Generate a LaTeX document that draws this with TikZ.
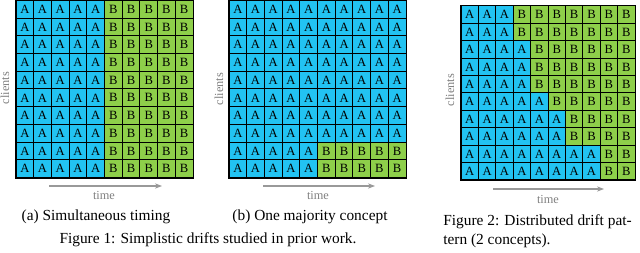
\documentclass[tikz,border=0pt]{standalone}
\usepackage{fontspec}
\setmainfont{Liberation Serif}
\usepackage{tikz}
\usetikzlibrary{arrows.meta,positioning}
\definecolor{conceptA}{HTML}{22C3F2}
\definecolor{conceptB}{HTML}{8ECF4A}
\tikzset{
  cell/.style={draw, line width=0.65pt, inner sep=0pt, font=\fontsize{8.2}{9}\selectfont},
  gridframe/.style={draw, line width=1pt},
  timearr/.style={-{Stealth[length=1.6mm, width=1.2mm]}, draw=gray!80, line width=0.9pt},
  axlbl/.style={font=\fontsize{8}{9}\selectfont, text=gray},
  captxt/.style={font=\fontsize{10}{12}\selectfont, align=left, inner sep=0pt}
}
% #1 name, #2 left, #3 top, #4 cell size, #5 number of A's in each row
\newcommand{\driftgrid}[5]{
  \foreach \n [count=\r] in {#5}{
    \foreach \c in {1,...,10}{
      \ifnum\c>\n \def\cc{B}\def\cfill{conceptB}\else\def\cc{A}\def\cfill{conceptA}\fi
      \node[cell, fill=\cfill, minimum size=#4*0.65pt]
        (#1-\r-\c) at ({#2+(\c-0.5)*#4},{#3+(\r-0.5)*#4}) {\cc};
    }
  }
  \draw[gridframe] (#1-1-1.north west) rectangle (#1-10-10.south east);
}

\begin{document}
\begin{tikzpicture}[x=0.65pt, y=-0.65pt]
  \useasboundingbox (0,0) rectangle (640,253);
  % (a) simultaneous timing
  \driftgrid{ga}{16}{0.5}{17.7}{5,5,5,5,5,5,5,5,5,5}
  \coordinate (ga-t0) at (49,186); \coordinate (ga-t1) at (162,186);
  \draw[timearr] (ga-t0) -- (ga-t1);
  \node[axlbl] (ga-time) at (104,195) {time};
  \node[axlbl, rotate=90] (ga-cl) at (5,88) {clients};
  \node[captxt] (ga-cap) at (96,217) {(a) Simultaneous timing};
  % (b) one majority concept
  \driftgrid{gb}{229}{0.5}{17.7}{10,10,10,10,10,10,10,10,5,5}
  \coordinate (gb-t0) at (263,186); \coordinate (gb-t1) at (375,186);
  \draw[timearr] (gb-t0) -- (gb-t1);
  \node[axlbl] (gb-time) at (318,195) {time};
  \node[axlbl, rotate=90] (gb-cl) at (219,89) {clients};
  \node[captxt] (gb-cap) at (310,217) {(b) One majority concept};
  \node[captxt] (fig1) at (208,240) {Figure 1: Simplistic drifts studied in prior work.};
  % distributed drift
  \driftgrid{gc}{461}{6}{17.4}{3,3,4,4,4,5,6,6,8,8}
  \coordinate (gc-t0) at (493,189); \coordinate (gc-t1) at (604,189);
  \draw[timearr] (gc-t0) -- (gc-t1);
  \node[axlbl] (gc-time) at (548,199) {time};
  \node[axlbl, rotate=90] (gc-cl) at (450,90) {clients};
  \node[captxt, anchor=west] (fig2) at (443,231) {Figure 2: Distributed drift pat-\\tern (2 concepts).};
\end{tikzpicture}
\end{document}
